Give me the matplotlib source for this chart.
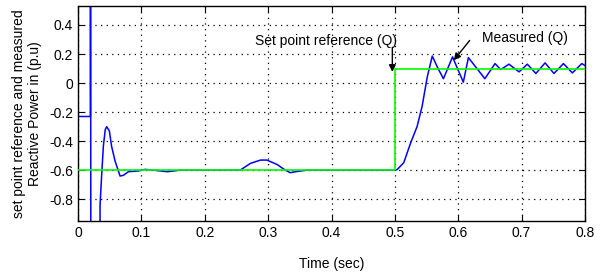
import numpy as np
import matplotlib.pyplot as plt

plt.rcParams['font.family'] = ['Liberation Sans', 'DejaVu Sans']

# set point reference (Q)
ref_t = [0.0, 0.5, 0.5, 0.8]
ref_q = [-0.6, -0.6, 0.1, 0.1]

# measured reactive power (Q)
meas_t = [0.0, 0.0195, 0.0196, 0.0205, 0.0345, 0.0348, 0.037, 0.040, 0.043, 0.0453,
          0.0495, 0.053, 0.0585, 0.0637, 0.0664, 0.0716, 0.0795, 0.095, 0.106, 0.12,
          0.141, 0.16, 0.256, 0.272, 0.288, 0.298, 0.314, 0.327, 0.335, 0.343, 0.36,
          0.5, 0.504, 0.514, 0.525, 0.535, 0.543, 0.551, 0.559, 0.567, 0.5766, 0.591,
          0.608, 0.616, 0.642, 0.658, 0.667, 0.680, 0.696, 0.709, 0.7225, 0.737,
          0.751, 0.766, 0.780, 0.795, 0.8]
meas_q = [-0.23, -0.23, 3.0, -3.0, -3.0, -0.84, -0.66, -0.435, -0.32, -0.30,
          -0.33, -0.435, -0.537, -0.605, -0.64, -0.635, -0.61, -0.605, -0.594, -0.6,
          -0.61, -0.6, -0.599, -0.553, -0.53, -0.53, -0.56, -0.599, -0.617, -0.61, -0.6,
          -0.6, -0.594, -0.548, -0.41, -0.30, -0.16, 0.04, 0.186, 0.11, 0.03, 0.18,
          0.006, 0.175, 0.03, 0.134, 0.093, 0.13, 0.077, 0.13, 0.066, 0.139,
          0.066, 0.134, 0.07, 0.134, 0.12]

xticks = [0, 0.1, 0.2, 0.3, 0.4, 0.5, 0.6, 0.7, 0.8]
xlabels = ['0', '0.1', '0.2', '0.3', '0.4', '0.5', '0.6', '0.7', '0.8']
yticks = [-0.8, -0.6, -0.4, -0.2, 0, 0.2, 0.4]
ylabels = ['-0.8', '-0.6', '-0.4', '-0.2', '0', '0.2', '0.4']

fig = plt.figure(figsize=(6, 2.75), dpi=100)
ax = fig.add_axes([0.13, 0.196, 0.845, 0.782])

ax.plot(meas_t, meas_q, color='#0000ff', lw=1.1, zorder=2)
ax.plot(ref_t, ref_q, color='#00ff00', lw=1.2, zorder=3)

ax.set_xlim(0, 0.8)
ax.set_ylim(-0.95, 0.53)
ax.set_xticks(xticks)
ax.set_xticklabels(xlabels)
ax.set_yticks(yticks)
ax.set_yticklabels(ylabels)
ax.tick_params(direction='in', top=True, right=True, labelsize=10, length=4)
ax.grid(True, color='black', linestyle=(0, (1, 3.5)), lw=0.9)
for s in ax.spines.values():
    s.set_linewidth(1.0)

ax.set_xlabel('Time (sec)', fontsize=10, labelpad=12)
ax.set_ylabel('set point reference and measured\nReactive Power in (p.u)', fontsize=10, labelpad=5)

arrow = dict(arrowstyle='-|>', color='black', lw=1, shrinkA=0, shrinkB=0, mutation_scale=10)
ax.text(0.392, 0.287, 'Set point reference (Q)', fontsize=10, ha='center', va='center')
ax.annotate('', xy=(0.496, 0.077), xytext=(0.496, 0.246), arrowprops=arrow)
ax.text(0.705, 0.307, 'Measured (Q)', fontsize=10, ha='center', va='center')
ax.annotate('', xy=(0.593, 0.157), xytext=(0.618, 0.293), arrowprops=arrow)

fig.savefig('out.png', dpi=100)
